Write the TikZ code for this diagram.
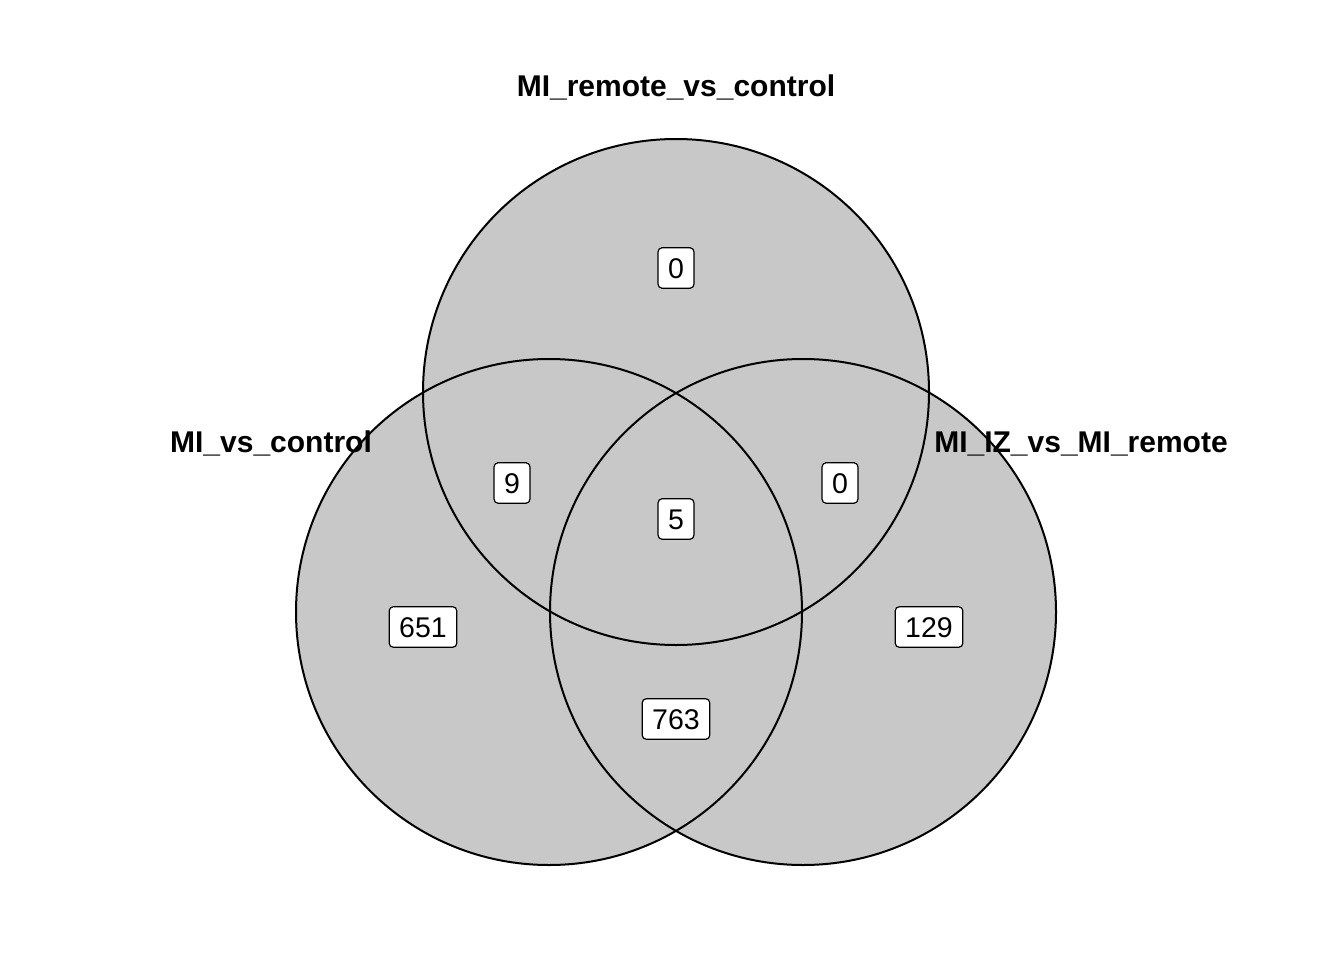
\documentclass[tikz,border=0pt]{standalone}
\usepackage{fontspec}
\setmainfont{Liberation Sans}
\usetikzlibrary{positioning}
\definecolor{vennfill}{HTML}{C8C8C8}
\tikzset{
  setline/.style={line width=2pt},
  setname/.style={font=\fontsize{30}{34}\selectfont\bfseries, anchor=base},
  count/.style={draw, fill=white, line width=1.2pt, rounded corners=4pt,
    font=\fontsize{28.5}{32}\selectfont, text height=20.5pt, text depth=0pt,
    inner xsep=10pt, inner ysep=10pt}
}

\begin{document}
\begin{tikzpicture}[x=1pt, y=-1pt]
  \useasboundingbox (0, 0) rectangle (1344, 960);
  \coordinate (top) at (676, 392);
  \coordinate (left) at (549, 612);
  \coordinate (right) at (803, 612);

  \foreach \c in {top, left, right}
    \fill[vennfill] (\c) circle (253);
  \foreach \c in {top, left, right}
    \draw[setline] (\c) circle (253);

  \node[count] (onlyremote) at (676, 268) {0};
  \node[count] (remotemi) at (512, 483) {9};
  \node[count] (remoteiz) at (840, 483) {0};
  \node[count] (all) at (676, 519) {5};
  \node[count] (onlymi) at (423, 627) {651};
  \node[count] (onlyiz) at (929, 627) {129};
  \node[count] (miiz) at (676, 719) {763};

  \node[setname] (remote) at (676, 97) {MI\_remote\_vs\_control};
  \node[setname] (mi) at (271, 452) {MI\_vs\_control};
  \node[setname] (iz) at (1081, 452) {MI\_IZ\_vs\_MI\_remote};
\end{tikzpicture}
\end{document}
